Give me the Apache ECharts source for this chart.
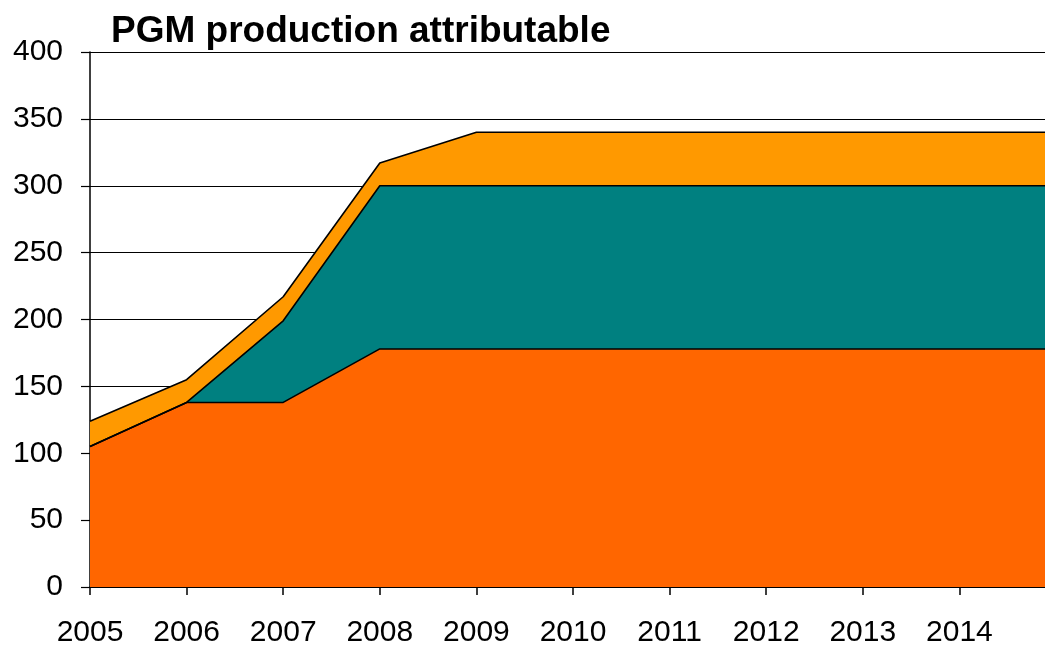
<!DOCTYPE html>
<html>
<head>
<meta charset="utf-8">
<title>PGM production attributable</title>
<script src="https://cdn.jsdelivr.net/npm/echarts@6/dist/echarts.min.js"></script>
<style>
  html, body { margin: 0; padding: 0; background: #ffffff; overflow: hidden; width: 1045px; height: 648px; }
  /* the plot runs on to 2015, a little past the visible right edge */
  #chart { width: 1059px; height: 648px; }
</style>
</head>
<body>
<div id="chart"></div>
<script>
// Years on the horizontal axis (2015 closes the last segment at the right edge)
const years = ['2005', '2006', '2007', '2008', '2009', '2010', '2011', '2012', '2013', '2014', '2015'];

// Stacked production layers, bottom to top
const baseLayer   = [105, 138, 138, 178, 178, 178, 178, 178, 178, 178, 178];
const middleLayer = [0, 0, 61, 122, 122, 122, 122, 122, 122, 122, 122];
const topLayer    = [19, 17, 18, 17, 40, 40, 40, 40, 40, 40, 40];

// Vertical axis ticks
const yTicks = [0, 50, 100, 150, 200, 250, 300, 350, 400];

const FONT = '"Liberation Sans", Arial, sans-serif';

function layer(name, values, color) {
  return {
    name: name,
    type: 'line',
    stack: 'total',
    data: values,
    symbol: 'none',
    showSymbol: false,
    smooth: false,
    lineStyle: { color: '#000000', width: 1.6 },
    areaStyle: { color: color, opacity: 1 },
    itemStyle: { color: color },
    emphasis: { disabled: true },
    animation: false
  };
}

const chart = echarts.init(document.getElementById('chart'), null, { renderer: 'canvas' });

chart.setOption({
  backgroundColor: '#ffffff',
  animation: false,
  title: {
    text: 'PGM production attributable',
    left: 111,
    top: 13,
    padding: 0,
    textStyle: { fontFamily: FONT, fontWeight: 'bold', fontSize: 37, color: '#000000' }
  },
  grid: { left: 90, right: 0, top: 52, bottom: 61, containLabel: false },
  xAxis: {
    type: 'category',
    data: years,
    boundaryGap: false,
    axisLine: { show: true, onZero: false, lineStyle: { color: '#000000', width: 1.5 } },
    axisTick: { show: true, inside: false, length: 8, interval: 0, lineStyle: { color: '#000000', width: 1.5 } },
    splitLine: { show: false },
    axisLabel: {
      interval: 0,
      margin: 31,
      color: '#000000',
      fontFamily: FONT,
      fontSize: 30,
      formatter: v => (v === years[years.length - 1] ? '' : v)
    }
  },
  yAxis: {
    type: 'value',
    min: yTicks[0],
    max: yTicks[yTicks.length - 1],
    interval: yTicks[1] - yTicks[0],
    axisLine: { show: true, lineStyle: { color: '#000000', width: 1.5 } },
    axisTick: { show: true, inside: false, length: 9, lineStyle: { color: '#000000', width: 1.2 } },
    splitLine: { show: true, lineStyle: { color: '#000000', width: 1.2 } },
    axisLabel: {
      margin: 27,
      color: '#000000',
      fontFamily: FONT,
      fontSize: 30
    }
  },
  series: [
    layer('Base', baseLayer, '#FF6600'),
    layer('Middle', middleLayer, '#008080'),
    layer('Top', topLayer, '#FF9900')
  ]
});
</script>
</body>
</html>
